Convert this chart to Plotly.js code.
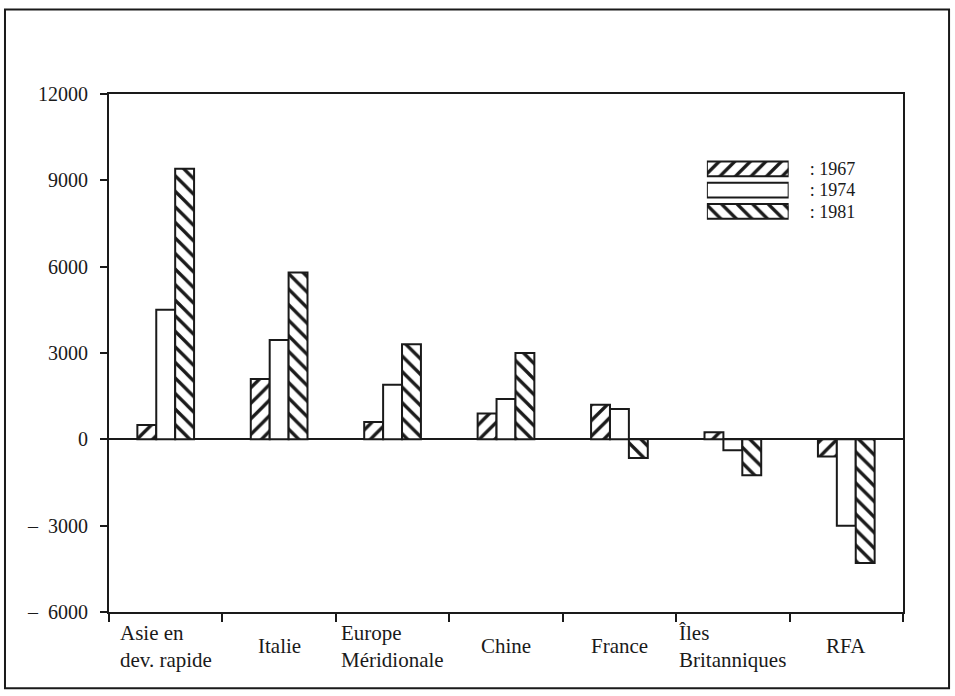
<!DOCTYPE html>
<html>
<head>
<meta charset="utf-8">
<script src="https://cdn.plot.ly/plotly-3.0.1.min.js"></script>
<style>html,body{margin:0;padding:0;background:#fff;}#chart{width:955px;height:696px;}</style>
</head>
<body>
<div id="chart"></div>
<script>
// ---- data ----
const categories = ['Asie en<br>dev. rapide', 'Italie', 'Europe<br>Méridionale', 'Chine', 'France', 'Îles<br>Britanniques', 'RFA'];
const v1967 = [500, 2100, 600, 900, 1200, 250, -600];
const v1974 = [4500, 3450, 1900, 1400, 1050, -380, -3000];
const v1981 = [9400, 5800, 3300, 3000, -650, -1250, -4300];
const years = ['1967', '1974', '1981'];
const yTickVals = [12000, 9000, 6000, 3000, 0, -3000, -6000];
const yTickText = ['12000', '9000', '6000', '3000', '0', '–\u00a0\u00a03000', '–\u00a0\u00a06000'];

// ---- styles ----
const INK = '#1a1a1a';
const FONT = 'Liberation Serif, Times New Roman, serif';
const hatch = (shape) => ({shape: shape, size: 11, solidity: 0.3, fgcolor: INK, fgopacity: 1, bgcolor: 'white', fillmode: 'overlay'});
const styles = [
  {color: 'white', line: {color: INK, width: 2}, pattern: hatch('/')},
  {color: 'white', line: {color: INK, width: 2}},
  {color: 'white', line: {color: INK, width: 2}, pattern: hatch('\\')}
];
const series = [v1967, v1974, v1981];

const traces = series.map((vals, i) => ({
  type: 'bar', x: categories, y: vals, name: years[i],
  marker: styles[i], showlegend: false, hoverinfo: 'x+y',
  xaxis: 'x', yaxis: 'y'
}));

// legend drawn as small horizontal bars on a second pair of axes
const legendLabels = years.map(y => ': ' + y);
years.forEach((y, i) => {
  traces.push({
    type: 'bar', orientation: 'h', x: [1], y: [legendLabels[i]], width: 0.7,
    marker: styles[i], showlegend: false, hoverinfo: 'skip',
    xaxis: 'x2', yaxis: 'y2'
  });
});

const annotations = categories.map(c => ({
  x: c, xref: 'x', y: -0.066, yref: 'paper', text: c, showarrow: false,
  xanchor: 'center', yanchor: 'middle', align: 'left',
  font: {family: FONT, size: 21, color: INK}
}));

const layout = {
  width: 955, height: 696,
  margin: {l: 109, r: 52, t: 94, b: 84},
  paper_bgcolor: 'white', plot_bgcolor: 'white',
  font: {family: FONT, size: 20, color: INK},
  barmode: 'group', bargap: 0.5, bargroupgap: 0,
  xaxis: {
    type: 'category', domain: [0, 1],
    showline: true, linecolor: INK, linewidth: 2, mirror: true,
    ticks: 'outside', tickson: 'boundaries', ticklen: 8, tickwidth: 2, tickcolor: INK,
    showticklabels: false, showgrid: false, zeroline: false, fixedrange: true
  },
  yaxis: {
    range: [-6000, 12000], domain: [0, 1],
    tickmode: 'array', tickvals: yTickVals, ticktext: yTickText,
    showline: true, linecolor: INK, linewidth: 2, mirror: true,
    ticks: 'outside', ticklen: 7, tickwidth: 2, tickcolor: INK,
    ticklabelstandoff: 8,
    showgrid: false, zeroline: true, zerolinecolor: INK, zerolinewidth: 2,
    tickfont: {family: FONT, size: 20, color: INK}, fixedrange: true
  },
  xaxis2: {
    domain: [0.753, 0.856], anchor: 'y2', range: [0, 1],
    visible: false, fixedrange: true
  },
  yaxis2: {
    domain: [0.753, 0.876], anchor: 'x2', type: 'category', side: 'right',
    tickmode: 'array', tickvals: legendLabels, ticktext: legendLabels,
    autorange: 'reversed', showline: false, ticks: '', showgrid: false, zeroline: false,
    tickfont: {family: FONT, size: 18, color: INK}, ticklabelstandoff: 20, fixedrange: true
  },
  annotations: annotations,
  shapes: [{
    type: 'rect', xref: 'paper', yref: 'paper',
    x0: -0.131, x1: 1.058, y0: -0.147, y1: 1.163,
    line: {color: INK, width: 2}, fillcolor: 'rgba(0,0,0,0)', layer: 'below'
  }]
};

Plotly.newPlot('chart', traces, layout, {displayModeBar: false, staticPlot: true});
</script>
</body>
</html>
